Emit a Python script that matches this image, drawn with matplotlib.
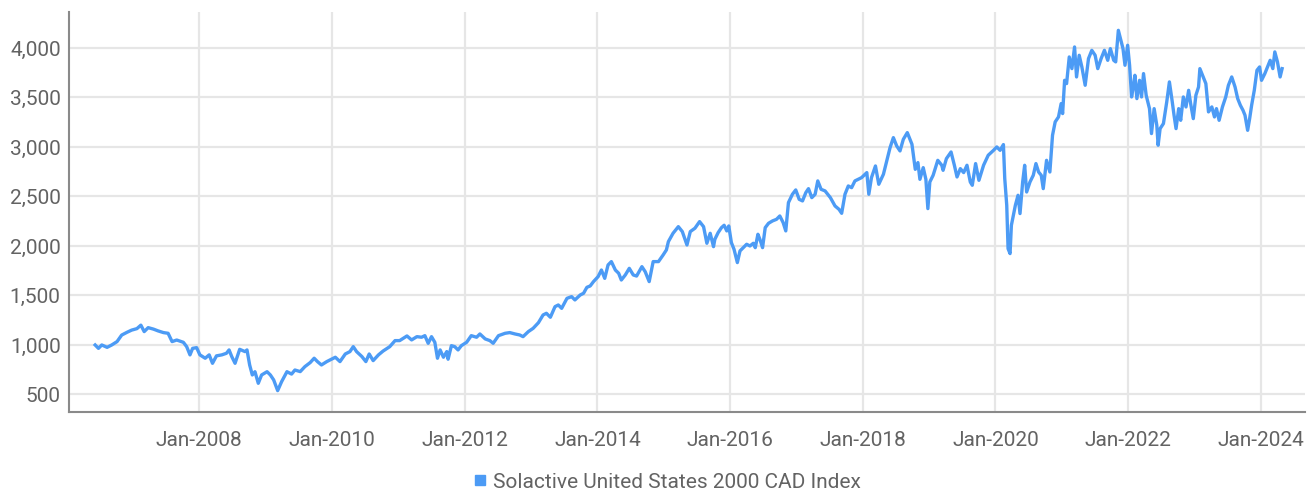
import matplotlib
matplotlib.use("Agg")
import matplotlib.pyplot as plt
import matplotlib.dates as mdates
import matplotlib.ticker as mticker
from matplotlib.lines import Line2D
import pandas as pd

years = [
    2006.43, 2006.48, 2006.53, 2006.61, 2006.68, 2006.76, 2006.83, 2006.91, 2006.98, 2007.06,
    2007.12, 2007.17, 2007.23, 2007.31, 2007.38, 2007.46, 2007.53, 2007.59, 2007.66, 2007.76,
    2007.81, 2007.86, 2007.90, 2007.96, 2008.01, 2008.09, 2008.15, 2008.20, 2008.26, 2008.34,
    2008.41, 2008.45, 2008.49, 2008.54, 2008.61, 2008.69, 2008.72, 2008.76, 2008.80, 2008.84,
    2008.89, 2008.94, 2009.02, 2009.07, 2009.12, 2009.18, 2009.24, 2009.32, 2009.39,
    2009.44, 2009.52, 2009.59, 2009.67, 2009.73, 2009.78, 2009.84, 2009.92, 2009.99, 2010.05,
    2010.12, 2010.20, 2010.27, 2010.32, 2010.37, 2010.45, 2010.51, 2010.56, 2010.62, 2010.70,
    2010.77, 2010.87, 2010.95, 2011.02, 2011.13, 2011.20, 2011.28, 2011.35, 2011.40, 2011.45,
    2011.50, 2011.55, 2011.59, 2011.63, 2011.68, 2011.73, 2011.75, 2011.80, 2011.85, 2011.90,
    2011.95, 2012.03, 2012.10, 2012.18, 2012.23, 2012.31, 2012.38, 2012.43, 2012.51,
    2012.61, 2012.68, 2012.76, 2012.83, 2012.88, 2012.96, 2013.03, 2013.11, 2013.18, 2013.23,
    2013.29, 2013.36, 2013.41, 2013.46, 2013.54, 2013.61, 2013.66, 2013.74, 2013.79, 2013.84,
    2013.89, 2013.94, 2014.01, 2014.06, 2014.11, 2014.16, 2014.21, 2014.27, 2014.32, 2014.36,
    2014.42, 2014.48, 2014.54, 2014.59, 2014.67, 2014.72, 2014.78, 2014.84, 2014.92, 2014.99,
    2015.04, 2015.07, 2015.14, 2015.22, 2015.28, 2015.35, 2015.40, 2015.47, 2015.54, 2015.60,
    2015.65, 2015.70, 2015.75,
    2015.77, 2015.82, 2015.87, 2015.91, 2015.95, 2015.98, 2016.02, 2016.06, 2016.11, 2016.15,
    2016.20, 2016.25, 2016.30, 2016.35, 2016.38, 2016.42, 2016.45, 2016.49, 2016.53, 2016.58,
    2016.64, 2016.70, 2016.75, 2016.80, 2016.84, 2016.88, 2016.94, 2016.99, 2017.04, 2017.09,
    2017.14, 2017.18, 2017.23, 2017.28, 2017.32, 2017.37, 2017.43, 2017.51, 2017.58, 2017.64,
    2017.68, 2017.73, 2017.78, 2017.83, 2017.88, 2017.93, 2017.98, 2018.06, 2018.09, 2018.13,
    2018.19, 2018.24, 2018.31, 2018.36, 2018.41, 2018.46, 2018.51, 2018.56, 2018.61, 2018.67,
    2018.74, 2018.79, 2018.83, 2018.86, 2018.91, 2018.95,
    2018.98, 2019.01, 2019.06, 2019.13, 2019.19, 2019.21, 2019.26, 2019.33, 2019.38, 2019.42,
    2019.47, 2019.52, 2019.57, 2019.62, 2019.65, 2019.70, 2019.75, 2019.82, 2019.89, 2019.97,
    2020.02, 2020.07, 2020.12, 2020.14, 2020.17, 2020.19, 2020.22, 2020.24, 2020.27, 2020.30,
    2020.34, 2020.37, 2020.41, 2020.44, 2020.47, 2020.52, 2020.57, 2020.61, 2020.65, 2020.69,
    2020.72, 2020.77, 2020.82, 2020.86, 2020.90, 2020.95, 2020.99, 2021.01, 2021.04, 2021.07,
    2021.11, 2021.15, 2021.19, 2021.22, 2021.26, 2021.30, 2021.35, 2021.40, 2021.45, 2021.50,
    2021.54, 2021.59, 2021.64, 2021.69, 2021.73, 2021.78, 2021.81, 2021.85,
    2021.92, 2021.95, 2021.99, 2022.02, 2022.05, 2022.08, 2022.10, 2022.13, 2022.17, 2022.20,
    2022.23, 2022.27, 2022.32, 2022.35, 2022.39, 2022.43, 2022.45, 2022.48, 2022.53, 2022.58,
    2022.62, 2022.66, 2022.69, 2022.72, 2022.76, 2022.79, 2022.83, 2022.87, 2022.91, 2022.94,
    2022.98, 2023.02, 2023.06, 2023.08, 2023.13, 2023.17, 2023.21, 2023.26, 2023.30, 2023.33,
    2023.37, 2023.42, 2023.47, 2023.51, 2023.56, 2023.61, 2023.65, 2023.69, 2023.73, 2023.76,
    2023.80, 2023.83, 2023.86, 2023.90, 2023.94, 2023.98, 2024.01, 2024.06, 2024.10, 2024.14,
    2024.18, 2024.21, 2024.25, 2024.29, 2024.32,
]
index_values = [
    1000, 966, 1000, 976, 1000, 1034, 1100, 1128, 1150, 1165,
    1200, 1135, 1175, 1160, 1142, 1125, 1118, 1034, 1050, 1027,
    983, 900, 966, 973, 900, 866, 900, 815, 890, 900,
    916, 950, 883, 815, 956, 933, 950, 798, 697, 730,
    613, 697, 730, 697, 647, 539, 630, 730, 706,
    747, 731, 781, 822, 866, 832, 798, 832, 856, 876,
    832, 909, 933, 983, 933, 883, 832, 909, 842, 900,
    939, 983, 1044, 1044, 1091, 1051, 1084, 1078, 1094, 1017,
    1084, 1027, 866, 950, 876, 933, 856, 993, 983, 950,
    993, 1027, 1094, 1078, 1111, 1061, 1044, 1017, 1094,
    1118, 1125, 1111, 1101, 1084, 1135, 1168, 1225, 1303, 1320,
    1280, 1387, 1404, 1370, 1471, 1488, 1455, 1505, 1522, 1582,
    1596, 1640, 1690, 1757, 1673, 1808, 1842, 1757, 1724, 1656,
    1707, 1774, 1707, 1696, 1791, 1740, 1640, 1842, 1842, 1909,
    1960, 2044, 2128, 2195, 2145, 2010, 2145, 2179, 2246, 2195,
    2027, 2128, 1993,
    2067, 2135, 2185, 2209, 2152, 2202, 2034, 1966, 1832, 1950,
    1983, 2017, 2000, 2027, 1983, 2118, 2067, 1983, 2185, 2229,
    2253, 2269, 2303, 2236, 2152, 2438, 2522, 2566, 2471, 2455,
    2539, 2579, 2488, 2522, 2657, 2572, 2556, 2488, 2404, 2370,
    2330, 2522, 2606, 2589, 2657, 2673, 2690, 2741, 2522, 2690,
    2808, 2623, 2724, 2859, 2993, 3094, 3010, 2960, 3077, 3145,
    3027, 2774, 2842, 2673, 2791, 2673,
    2377, 2646, 2714, 2865, 2815, 2764, 2882, 2949, 2815, 2697,
    2781, 2741, 2815, 2646, 2613, 2832, 2663, 2815, 2916, 2966,
    3000, 2966, 3024, 2680, 2411, 1973, 1923, 2209, 2310, 2411,
    2512, 2327, 2646, 2815, 2545, 2646, 2714, 2832, 2747, 2714,
    2579, 2865, 2747, 3118, 3253, 3303, 3438, 3337, 3673, 3640,
    3909, 3791, 4010, 3707, 3926, 3808, 3623, 3892, 3976, 3926,
    3791, 3892, 3976, 3875, 3993, 3875, 3859, 4178,
    3993, 3825, 4027, 3825, 3505, 3623, 3724, 3488, 3673, 3505,
    3741, 3522, 3387, 3135, 3387, 3219, 3017, 3185, 3236, 3455,
    3657, 3471, 3320, 3185, 3387, 3269, 3505, 3404, 3572, 3438,
    3286, 3522, 3606, 3791, 3707, 3640, 3354, 3404, 3303, 3387,
    3269, 3404, 3505, 3623, 3707, 3606, 3488, 3421, 3370, 3320,
    3168, 3286, 3421, 3572, 3774, 3808, 3673, 3741, 3808, 3875,
    3791, 3960, 3859, 3707, 3791,
]
series_name = "Solactive United States 2000 CAD Index"
y_ticks = [500, 1000, 1500, 2000, 2500, 3000, 3500, 4000]


def to_date(y):
    return pd.Timestamp(int(y), 1, 1) + pd.Timedelta(days=(y - int(y)) * 365.25)


dates = [to_date(y) for y in years]

line_color = "#4C9BF5"
text_color = "#636363"
plt.rcParams["font.family"] = ["Roboto", "DejaVu Sans"]

fig = plt.figure(figsize=(13.14, 4.96), dpi=100)
ax = fig.add_axes([69 / 1314, 1 - 412 / 496, (1305 - 69) / 1314, 400 / 496])

ax.plot(dates, index_values, color=line_color, linewidth=2.4, solid_joinstyle="round")

ax.set_ylim(323, 4363)
ax.set_xlim(to_date(2006.036), to_date(2024.665))
ax.set_yticks(y_ticks)
ax.yaxis.set_major_formatter(mticker.StrMethodFormatter("{x:,.0f}"))
ax.xaxis.set_major_locator(mdates.YearLocator(2))
ax.xaxis.set_major_formatter(mdates.DateFormatter("%b-%Y"))

ax.grid(True, color="#e6e6e6", linewidth=1.6)
ax.set_axisbelow(True)
ax.tick_params(axis="both", length=0, labelsize=15, labelcolor=text_color)
ax.tick_params(axis="x", pad=14)
ax.tick_params(axis="y", pad=6)

for side in ["top", "right"]:
    ax.spines[side].set_visible(False)
for side in ["left", "bottom"]:
    ax.spines[side].set_color("#8a8a8a")
    ax.spines[side].set_linewidth(1.5)

handle = Line2D([], [], marker="s", linestyle="none", color=line_color, markersize=7)
fig.legend([handle], [series_name], loc="center", bbox_to_anchor=(0.507, 0.028),
           frameon=False, handletextpad=0.2, handlelength=0.8,
           prop={"size": 15}, labelcolor=text_color)

fig.savefig("out.png", dpi=100)
